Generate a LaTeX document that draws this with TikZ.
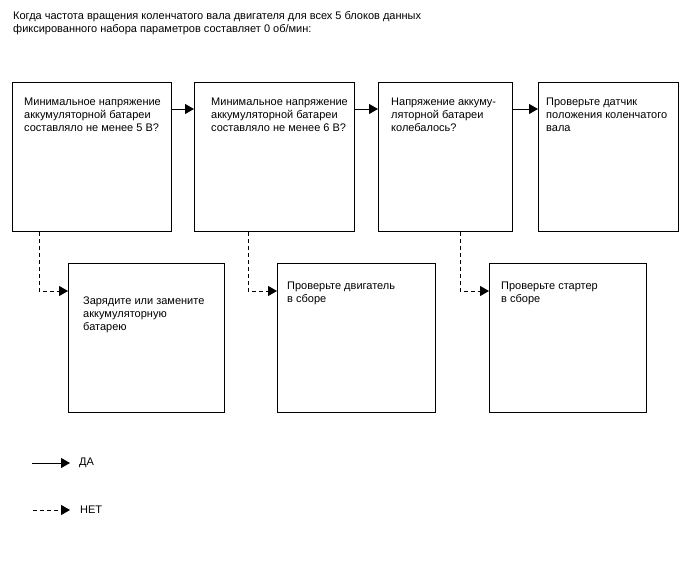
\documentclass[tikz,border=0pt]{standalone}
\usepackage{fontspec}
\setmainfont{Liberation Sans}
\usetikzlibrary{arrows.meta,positioning,calc}

\begin{document}
\begin{tikzpicture}[
  x=1pt,y=-1pt,
  box/.style={draw,line width=1.3pt,inner sep=0pt,anchor=north west,
    minimum height=149pt},
  boxtext/.style={anchor=north west,inner sep=0pt,align=left,
    font=\fontsize{11pt}{13pt}\selectfont},
  yesarr/.style={-{Triangle[length=9pt,width=10pt]},line width=1pt},
  noarr/.style={-{Triangle[length=9pt,width=10pt]},line width=0.9pt,
    dash pattern=on 4pt off 3pt}
]
\useasboundingbox (0,0) rectangle (688,560);

% header
\node[boxtext] (title) at (13,11)
  {Когда частота вращения коленчатого вала двигателя для всех 5 блоков данных\\
   фиксированного набора параметров составляет 0 об/мин:};

% checks
\node[box,minimum width=159pt] (q1) at (12,82) {};
\node[box,minimum width=160pt] (q2) at (194,82) {};
\node[box,minimum width=134pt] (q3) at (378,82) {};
\node[box,minimum width=140pt] (q4) at (538,82) {};
\node[boxtext] (q1t) at (24,98)
  {Минимальное напряжение\\аккумуляторной батареи\\составляло не менее 5 В?};
\node[boxtext] (q2t) at (211,98)
  {Минимальное напряжение\\аккумуляторной батареи\\составляло не менее 6 В?};
\node[boxtext] (q3t) at (391,98)
  {Напряжение аккуму-\\ляторной батареи\\колебалось?};
\node[boxtext] (q4t) at (546,98)
  {Проверьте датчик\\положения коленчатого\\вала};

% actions
\node[box,minimum width=156pt] (a1) at (68,263) {};
\node[box,minimum width=158pt] (a2) at (277,263) {};
\node[box,minimum width=157pt] (a3) at (489,263) {};
\node[boxtext] (a1t) at (83,297)
  {Зарядите или замените\\аккумуляторную\\батарею};
\node[boxtext] (a2t) at (287,282) {Проверьте двигатель\\в сборе};
\node[boxtext] (a3t) at (501,282) {Проверьте стартер\\в сборе};

% yes
\draw[yesarr] ([yshift=-27pt]q1.north east) -- ([yshift=-27pt]q2.north west);
\draw[yesarr] ([yshift=-27pt]q2.north east) -- ([yshift=-27pt]q3.north west);
\draw[yesarr] ([yshift=-27pt]q3.north east) -- ([yshift=-27pt]q4.north west);

% no
\draw[noarr] ([xshift=27pt]q1.south west) |- ([yshift=-28pt]a1.north west);
\draw[noarr] ([xshift=54pt]q2.south west) |- ([yshift=-28pt]a2.north west);
\draw[noarr] ([xshift=82pt]q3.south west) |- ([yshift=-28pt]a3.north west);

% legend
\coordinate (yesA) at (32,463);
\coordinate (yesB) at (70,463);
\coordinate (noA) at (33,510);
\coordinate (noB) at (70,510);
\draw[yesarr] (yesA) -- (yesB);
\draw[noarr] (noA) -- (noB);
\node[boxtext,anchor=west] (yesL) at (79,463) {ДА};
\node[boxtext,anchor=west] (noL) at (80,510) {НЕТ};
\end{tikzpicture}
\end{document}
